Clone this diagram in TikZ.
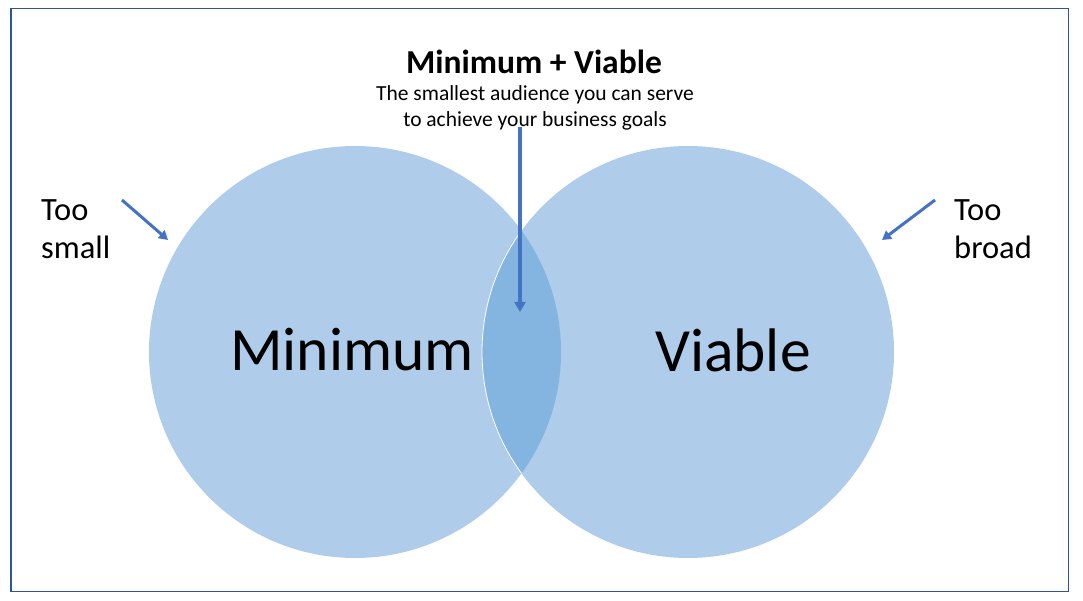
\documentclass[tikz,border=0pt]{standalone}
\usepackage{fontspec}
\setmainfont{Carlito}
\usetikzlibrary{arrows.meta}
\definecolor{frame}{HTML}{2F5597}
\definecolor{circ}{HTML}{AFCDEA}
\definecolor{lens}{HTML}{84B4E0}
\definecolor{arr}{HTML}{4472C4}
\tikzset{
  pointer/.style={draw=arr, line width=3.4pt, -{Triangle[length=10pt,width=11pt]}},
  side/.style={font=\fontsize{32.5}{38}\selectfont, align=left, anchor=west, inner sep=0pt},
  big/.style={font=\fontsize{61.5}{70}\selectfont, inner sep=0pt}
}
\begin{document}
\begin{tikzpicture}[x=1pt,y=-1pt]
\useasboundingbox (0,0) rectangle (1083,601);
\fill[white] (0,0) rectangle (1083,601);
\draw[frame, line width=1.2pt] (11,8.5) rectangle (1068.5,591.5);
% circles
\fill[circ] (355,352) circle (206);
\fill[circ] (688,352) circle (206);
\begin{scope}
  \clip (355,352) circle (206);
  \fill[lens] (688,352) circle (206);
  \draw[white, line width=0.8pt] (688,352) circle (206);
\end{scope}
\node[big] (min) at (352,350) {Minimum};
\node[big] (via) at (733,350) {Viable};
% title
\node[font=\fontsize{33.5}{40}\selectfont\bfseries, inner sep=0pt] (title) at (534,62) {Minimum + Viable};
\node[font=\fontsize{21.5}{26}\selectfont, align=center, inner sep=0pt] (sub) at (535,108) {The smallest audience you can serve\\to achieve your business goals};
\coordinate (lensTop) at (520,312);
\coordinate (arrStart) at (520,127);
\draw[pointer] (arrStart) -- (lensTop);
% side labels
\node[side] (small) at (41,229) {Too\\small};
\node[side] (broad) at (954,229) {Too\\broad};
\coordinate (sA) at (122,200);
\coordinate (sB) at (168,240);
\coordinate (bA) at (935,200);
\coordinate (bB) at (882,240);
\draw[pointer, -{Triangle[length=9pt,width=10pt]}, line width=3pt] (sA) -- (sB);
\draw[pointer, -{Triangle[length=9pt,width=10pt]}, line width=3pt] (bA) -- (bB);
\end{tikzpicture}
\end{document}
